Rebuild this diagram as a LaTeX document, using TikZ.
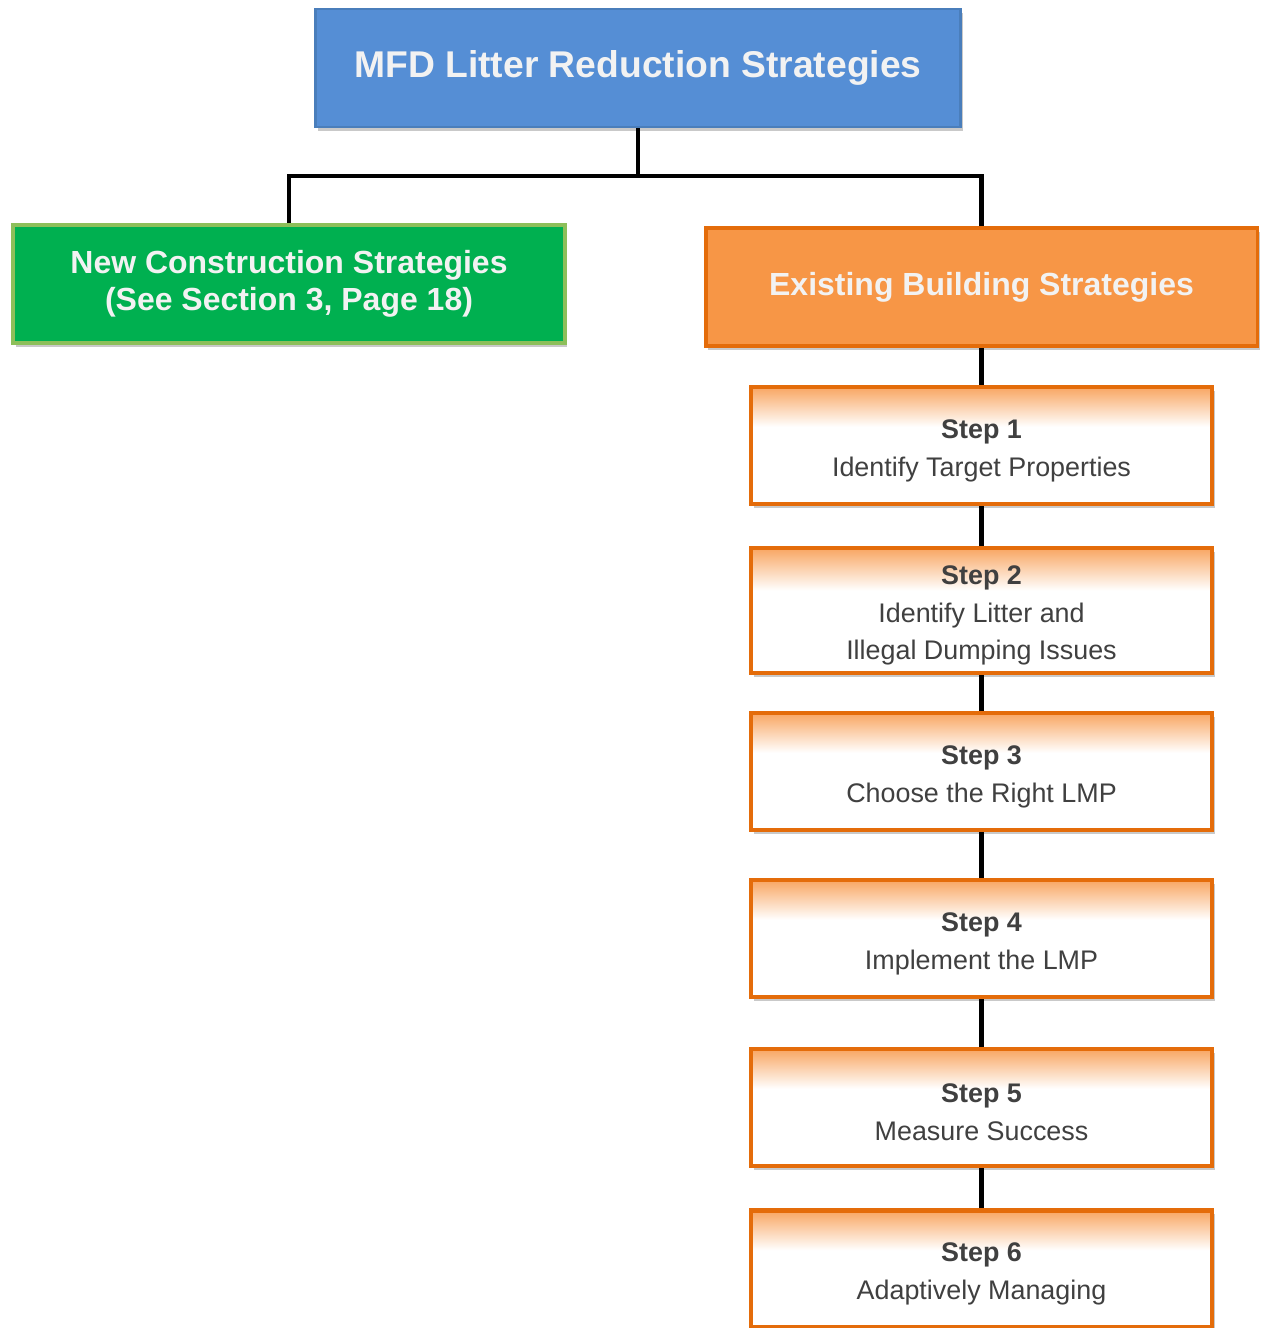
\documentclass[tikz,border=0pt]{standalone}
\usepackage{fontspec}
\setmainfont{Liberation Sans}
\usetikzlibrary{shadows}

\definecolor{rootblue}{HTML}{558ED5}
\definecolor{rootline}{HTML}{4A7EBB}
\definecolor{newgreen}{HTML}{00B050}
\definecolor{newline}{HTML}{8DBF5A}
\definecolor{oldorange}{HTML}{F79646}
\definecolor{oldline}{HTML}{E46C0A}
\definecolor{steptext}{HTML}{404040}

% white body, orange fading in from the top edge
\pgfdeclareverticalshading{stepfade}{100bp}{%
  color(0bp)=(white); color(25bp)=(white); color(58bp)=(white);
  color(75bp)=(oldorange!85!white); color(100bp)=(oldorange!85!white)}

% bold first line of a step, with a taller strut on top
\newcommand{\steptitle}[1]{\rule{0pt}{16.5pt}\textbf{#1}}

\begin{document}
\begin{tikzpicture}[
    font=\fontsize{15.3}{21.5}\selectfont,
    every node/.style={align=center},
    link/.style={line width=2.8pt, black},
    boxshadow/.style={
        drop shadow={shadow xshift=1.5pt, shadow yshift=-2pt, opacity=0.3, fill=black!70}
    },
    title/.style={
        rectangle,
        draw=rootline,
        line width=1.2pt,
        fill=rootblue,
        text=white!95!black,
        font=\bfseries\fontsize{21.2}{25}\selectfont,
        minimum width=12.9cm,
        minimum height=2.36cm,
        boxshadow
    },
    branch/.style={
        rectangle,
        line width=2pt,
        text=white!95!black,
        font=\bfseries\fontsize{18.2}{21}\selectfont,
        minimum width=11.03cm,
        minimum height=2.36cm,
        boxshadow
    },
    stepbox/.style={
        rectangle,
        draw=oldline,
        line width=2.4pt,
        shading=stepfade,
        text=steptext,
        minimum width=9.22cm,
        minimum height=2.34cm,
        boxshadow
    },
]

\useasboundingbox (0,0) rectangle (25.22,-26.56);

\node[title] (root) at (12.76,-1.36) {MFD Litter Reduction Strategies};

\node[branch, fill=newgreen, draw=newline] (newc) at (5.78,-5.68)
    {New Construction Strategies\\(See Section 3, Page 18)};
\node[branch, fill=oldorange, draw=oldline] (exist) at (19.63,-5.74)
    {Existing Building Strategies};

\node[stepbox] (step1) at (19.63,-8.91) {\steptitle{Step 1}\\Identify Target Properties};
\node[stepbox, minimum height=2.5cm] (step2) at (19.63,-12.21)
    {\steptitle{Step 2}\\Identify Litter and\\Illegal Dumping Issues};
\node[stepbox] (step3) at (19.63,-15.43) {\steptitle{Step 3}\\Choose the Right LMP};
\node[stepbox] (step4) at (19.63,-18.77) {\steptitle{Step 4}\\Implement the LMP};
\node[stepbox] (step5) at (19.63,-22.15) {\steptitle{Step 5}\\Measure Success};
\node[stepbox] (step6) at (19.63,-25.38) {\steptitle{Step 6}\\Adaptively Managing};

% tree lines
\coordinate (split) at (12.76,-3.52);
\draw[link] (root.south) -- (split) -| (newc.north);
\draw[link] (split) -| (exist.north);

\draw[link] (exist.south) -- (step1.north);
\draw[link] (step1.south) -- (step2.north);
\draw[link] (step2.south) -- (step3.north);
\draw[link] (step3.south) -- (step4.north);
\draw[link] (step4.south) -- (step5.north);
\draw[link] (step5.south) -- (step6.north);

\end{tikzpicture}
\end{document}
